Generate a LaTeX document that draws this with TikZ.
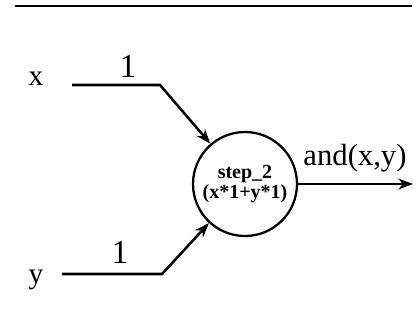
\documentclass[tikz,border=0pt]{standalone}
\usepackage{fontspec}
\setmainfont{Liberation Serif}
\usepackage{tikz}
\usetikzlibrary{arrows.meta, positioning}

\begin{document}
\begin{tikzpicture}[
  x=0.75pt, y=-0.75pt,
  unit/.style={draw, circle, line width=1.7pt, minimum size=78pt, inner sep=0pt, align=center,
               font=\bfseries\fontsize{15}{12.5}\selectfont},
  varlabel/.style={font=\fontsize{22}{22}\selectfont, inner sep=0pt},
  weight/.style={font=\fontsize{25}{25}\selectfont, inner sep=0pt},
  outlabel/.style={font=\fontsize{23}{23}\selectfont, inner sep=0pt},
  wire/.style={line width=1.9pt},
  arrow/.style={wire, -{Stealth[length=11pt, width=8pt]}}
]
\useasboundingbox (0,0) rectangle (416,333);

% Top rule
\draw[line width=1.7pt] (15,6) -- (412,6);

% Nodes
\node[unit] (neuron) at (245,184) {step\_2\\(x*1+y*1)};
\node[varlabel] (xin) at (36,79) {x};
\node[varlabel] (yin) at (36,280) {y};
\coordinate (xstart) at (72,85);
\coordinate (ystart) at (62,274);
\coordinate (xbend) at (160,85);
\coordinate (ybend) at (162,274);
\coordinate (out) at (413,184);

% Weights and output label
\node[weight] (wx) at (128,66) {1};
\node[weight] (wy) at (120,252) {1};
\node[outlabel] (and) at (355,158) {and(x,y)};

% Arrows
\draw[arrow] (xstart) -- (xbend) -- (neuron);
\draw[arrow] (ystart) -- (ybend) -- (neuron);
\draw[arrow] (neuron.east) -- (out);

\end{tikzpicture}
\end{document}
